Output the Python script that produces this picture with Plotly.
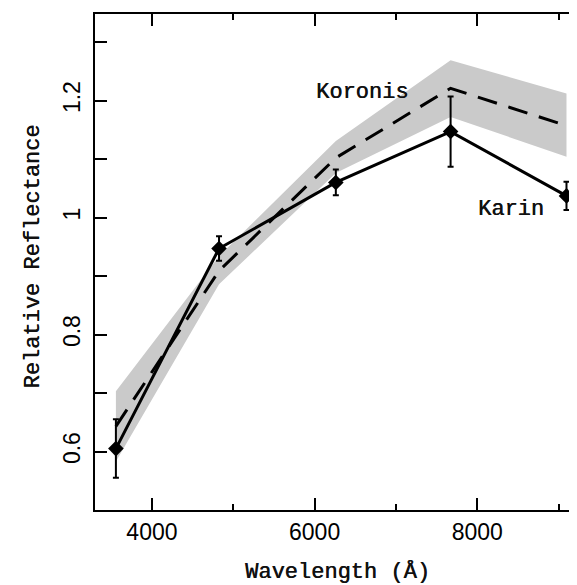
import plotly.graph_objects as go

# Data
wavelength = [3557, 4825, 6261, 7672, 9097]          # Angstrom
karin = [0.605, 0.947, 1.060, 1.147, 1.037]
karin_err = [0.050, 0.021, 0.022, 0.060, 0.024]
koronis = [0.643, 0.909, 1.102, 1.221, 1.157]
koronis_hi = [0.703, 0.934, 1.131, 1.269, 1.212]
koronis_lo = [0.583, 0.886, 1.076, 1.172, 1.104]

x_ticks = [4000, 6000, 8000]
y_ticks = [0.6, 0.8, 1.0, 1.2]
y_tick_text = ["0.6", "0.8", "1", "1.2"]

LABEL_FONT = dict(family="Liberation Mono, Courier New, monospace", size=22,
                  color="#111111", shadow="0.5px 0px 0px #111111")
TICK_FONT = dict(family="Liberation Sans, Arial, sans-serif", size=23, color="black")

fig = go.Figure()

# Koronis band
fig.add_trace(go.Scatter(
    x=wavelength + wavelength[::-1],
    y=koronis_hi + koronis_lo[::-1],
    fill="toself", fillcolor="#cacaca",
    line=dict(width=0), mode="lines", hoverinfo="skip", showlegend=False,
))

# Koronis mean (dashed)
fig.add_trace(go.Scatter(
    x=wavelength, y=koronis, mode="lines",
    line=dict(color="black", width=3, dash="20px,12px"),
    showlegend=False,
))

# Karin (solid, diamonds, error bars)
fig.add_trace(go.Scatter(
    x=wavelength, y=karin, mode="lines+markers",
    line=dict(color="black", width=3),
    marker=dict(symbol="diamond", size=12, color="black"),
    error_y=dict(type="data", array=karin_err, visible=True,
                 color="black", thickness=2, width=3),
    showlegend=False,
))

fig.add_annotation(x=6578, y=1.214, text="Koronis", showarrow=False,
                   font=LABEL_FONT, xanchor="center", yanchor="middle")
fig.add_annotation(x=8414, y=1.014, text="Karin", showarrow=False,
                   font=LABEL_FONT, xanchor="center", yanchor="middle")

# Axis titles
fig.add_annotation(xref="paper", yref="paper", x=0.496, y=-0.124,
                   text="Wavelength (Å)", showarrow=False, font=LABEL_FONT,
                   xanchor="center", yanchor="middle")
fig.add_annotation(xref="paper", yref="paper", x=-0.1265, y=0.5115,
                   text="Relative Reflectance", showarrow=False, font=LABEL_FONT,
                   textangle=-90, xanchor="center", yanchor="middle")

fig.update_xaxes(
    range=[3300, 9300], tickvals=x_ticks, ticktext=[str(v) for v in x_ticks],
    ticks="inside", ticklen=12, tickwidth=1.5, tickcolor="black",
    minor=dict(dtick=1000, tick0=0, ticks="inside", ticklen=6, tickwidth=1.5,
               tickcolor="black", showgrid=False),
    showline=True, linecolor="black", linewidth=2, mirror="ticks",
    showgrid=False, zeroline=False, tickfont=TICK_FONT,
)
fig.update_yaxes(
    range=[0.5, 1.348], tickvals=y_ticks, ticktext=y_tick_text,
    ticks="inside", ticklen=12, tickwidth=1.5, tickcolor="black",
    minor=dict(dtick=0.1, tick0=0, ticks="inside", ticklen=12, tickwidth=1.5,
               tickcolor="black", showgrid=False),
    showline=True, linecolor="black", linewidth=2, mirror="ticks",
    showgrid=False, zeroline=False, tickfont=TICK_FONT, tickangle=-90,
    ticklabelstandoff=4,
)

fig.update_layout(
    width=577, height=585,
    margin=dict(l=87, r=0, t=6, b=83),
    paper_bgcolor="white", plot_bgcolor="white",
    showlegend=False,
)

fig.write_html("out.html")
